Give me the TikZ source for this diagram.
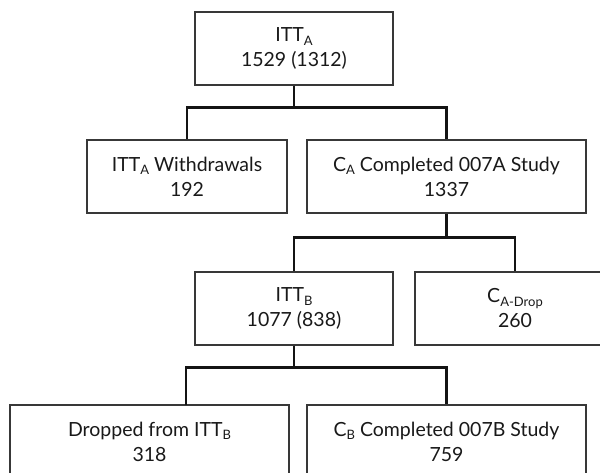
\documentclass[tikz,border=0pt]{standalone}
\usepackage{fontspec}
\setmainfont{Lato}
\newcommand{\subs}[1]{\raisebox{-0.38ex}{\fontsize{13}{13}\selectfont #1}}
\begin{document}
\begin{tikzpicture}[x=1pt,y=-1pt,
  box/.style={draw=black!78, line width=1.2pt, inner sep=0pt, minimum height=73pt,
    align=center, font=\fontsize{19.5}{25}\selectfont, text=black!90},
  conn/.style={draw=black!92, line width=2.3pt}]
\useasboundingbox (0,0) rectangle (600,472);
\begin{scope}
\clip (0,0) rectangle (600,472);
\node[box, minimum width=198pt] (top) at (294,48.5) {ITT\subs{A}\\1529 (1312)};
\node[box, minimum width=200pt] (wd) at (187,176.5) {ITT\subs{A} Withdrawals\\192};
\node[box, minimum width=279pt] (ca) at (446.5,176.5) {C\subs{A} Completed 007A Study\\1337};
\node[box, minimum width=198pt] (ittb) at (294,308.5) {ITT\subs{B}\\1077 (838)};
\node[box, minimum width=200pt] (drop) at (515,308.5) {C\subs{A-Drop}\\260};
\node[box, minimum width=279pt] (dropped) at (149.5,441.5) {Dropped from ITT\subs{B}\\318};
\node[box, minimum width=279pt] (cb) at (446.5,441.5) {C\subs{B} Completed 007B Study\\759};
\coordinate (j1) at ([yshift=-22pt]top.south);
\coordinate (j2) at ([yshift=-24pt]ca.south);
\coordinate (j3) at ([yshift=-22pt]ittb.south);
\coordinate (d4) at (186,405);
\draw[conn] (top.south) -- (j1);
\draw[conn] (wd.north) |- (j1) -| (ca.north);
\draw[conn] (ca.south) -- (j2);
\draw[conn] (ittb.north) |- (j2) -| (drop.north);
\draw[conn] (ittb.south) -- (j3);
\draw[conn] (d4) |- (j3) -| (cb.north);
\end{scope}
\end{tikzpicture}
\end{document}
